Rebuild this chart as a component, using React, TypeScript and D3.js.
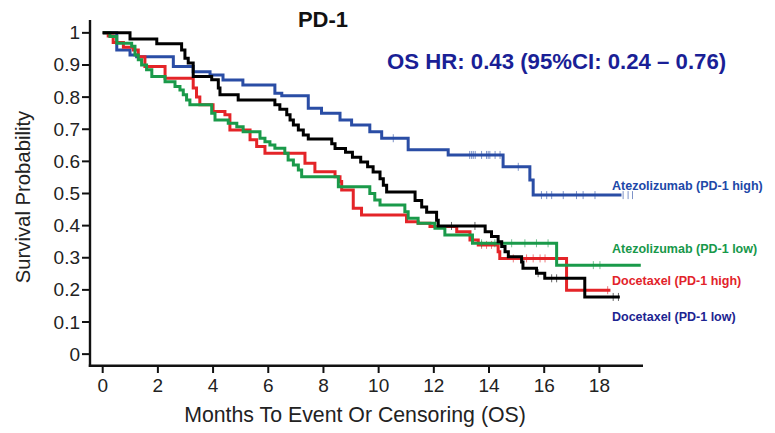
import React from "react";
import * as d3 from "d3";

// ---- data ----
const atezoHighTime = [0, 0.51, 0.99, 1.23, 2.56, 3.28, 3.89, 4.36, 5.08, 6.24, 6.49, 7.45, 7.93, 8.6, 9.02, 9.68, 10.11, 11.07, 12.52, 14.51, 15.48, 15.6, 18.8];
const atezoHighSurv = [1, 0.947, 0.931, 0.926, 0.895, 0.879, 0.869, 0.853, 0.838, 0.812, 0.804, 0.765, 0.75, 0.729, 0.713, 0.692, 0.672, 0.636, 0.62, 0.583, 0.542, 0.495, 0.495];
const atezoHighCensor = [10.53, 13.3, 13.37, 13.43, 13.5, 13.73, 13.91, 13.97, 14.03, 14.22, 14.4, 15.06, 15.9, 16.09, 16.27, 16.69, 17.17, 17.41, 17.84, 18.86, 19.04, 19.2];

const atezoLowTime = [0, 0.26, 0.51, 1.05, 1.17, 1.29, 1.41, 1.59, 1.78, 2.26, 2.62, 2.8, 2.92, 3.04, 3.16, 3.95, 4.07, 4.55, 4.86, 5.09, 5.7, 5.88, 6.06, 6.24, 6.6, 6.72, 6.91, 7.09, 7.21, 8.54, 9.68, 9.86, 10.05, 10.95, 11.07, 11.43, 12.04, 12.4, 13.4, 16.45, 19.5];
const atezoLowSurv = [1, 0.989, 0.968, 0.958, 0.931, 0.916, 0.9, 0.885, 0.864, 0.848, 0.833, 0.822, 0.807, 0.791, 0.776, 0.75, 0.729, 0.719, 0.708, 0.692, 0.672, 0.661, 0.651, 0.641, 0.625, 0.604, 0.589, 0.573, 0.552, 0.521, 0.5, 0.48, 0.464, 0.443, 0.423, 0.407, 0.392, 0.371, 0.345, 0.277, 0.277];
const atezoLowCensor = [13.73, 14.21, 14.82, 15.3, 15.72, 16.14, 17.78, 18.02];

const doceHighTime = [0, 0.2, 0.38, 0.75, 1.11, 1.29, 1.53, 2.26, 3.28, 3.4, 3.52, 4.0, 4.43, 4.61, 5.34, 5.58, 5.88, 7.33, 7.69, 8.42, 8.6, 8.66, 9.08, 9.38, 11.01, 11.43, 11.86, 12.83, 13.31, 13.61, 14.33, 14.39, 16.81, 18.4];
const doceHighSurv = [1, 0.99, 0.97, 0.955, 0.947, 0.926, 0.895, 0.859, 0.828, 0.8, 0.776, 0.755, 0.745, 0.698, 0.667, 0.646, 0.625, 0.594, 0.568, 0.552, 0.537, 0.511, 0.454, 0.433, 0.412, 0.407, 0.397, 0.381, 0.355, 0.34, 0.319, 0.298, 0.199, 0.199];
const doceHighCensor = [13.73, 13.91, 14.09, 14.88, 15.36, 15.6, 15.85, 16.03, 18.3];

const doceLowTime = [0, 0.99, 1.96, 2.86, 2.98, 3.1, 3.28, 3.95, 4.19, 4.25, 4.91, 6.24, 6.42, 6.67, 6.79, 6.91, 7.09, 7.27, 7.45, 8.3, 8.42, 8.8, 9.05, 9.35, 9.6, 9.8, 10.05, 10.17, 10.29, 11.32, 11.56, 11.74, 12.1, 12.16, 13.86, 14.09, 14.33, 14.46, 14.58, 14.7, 15.18, 15.23, 15.72, 16.02, 17.47, 18.74];
const doceLowSurv = [1, 0.981, 0.966, 0.947, 0.921, 0.906, 0.864, 0.854, 0.828, 0.807, 0.791, 0.776, 0.762, 0.745, 0.729, 0.713, 0.698, 0.682, 0.67, 0.655, 0.64, 0.628, 0.613, 0.598, 0.583, 0.567, 0.546, 0.526, 0.505, 0.478, 0.458, 0.442, 0.417, 0.399, 0.381, 0.366, 0.35, 0.335, 0.319, 0.303, 0.287, 0.267, 0.252, 0.236, 0.178, 0.178];
const doceLowCensor = [12.64, 13.49, 15.78, 16.27, 16.45, 18.5, 18.69];

const seriesNames = ["Atezolizumab (PD-1 high)", "Atezolizumab (PD-1 low)", "Docetaxel (PD-1 high)", "Docetaxel (PD-1 low)"];
const xTicks = [0, 2, 4, 6, 8, 10, 12, 14, 16, 18];
const yTicks = [0, 0.1, 0.2, 0.3, 0.4, 0.5, 0.6, 0.7, 0.8, 0.9, 1];
const yTickLabels = ["0", "0.1", "0.2", "0.3", "0.4", "0.5", "0.6", "0.7", "0.8", "0.9", "1"];
const titleText = "PD-1";
const hrText = "OS HR: 0.43 (95%CI: 0.24 \u2013 0.76)";
const xLabel = "Months To Event Or Censoring (OS)";
const yLabel = "Survival Probability";

const W = 775, H = 433;
const x = d3.scaleLinear().domain([-0.46, 19.58]).range([90, 643]);
const y = d3.scaleLinear().domain([-0.036, 1.04]).range([365.7, 20]);

const FONT = "'Liberation Sans', Arial, sans-serif";

type Curve = { time: number[]; surv: number[]; censor: number[]; color: string; labelColor: string; label: string; ly: number };

const curves: Curve[] = [
  { time: atezoHighTime, surv: atezoHighSurv, censor: atezoHighCensor, color: "#2a4da5", labelColor: "#2048a8", label: seriesNames[0], ly: 190 },
  { time: doceHighTime, surv: doceHighSurv, censor: doceHighCensor, color: "#e42428", labelColor: "#e2232a", label: seriesNames[2], ly: 285 },
  { time: atezoLowTime, surv: atezoLowSurv, censor: atezoLowCensor, color: "#1a9a4a", labelColor: "#17984a", label: seriesNames[1], ly: 253 },
  { time: doceLowTime, surv: doceLowSurv, censor: doceLowCensor, color: "#000000", labelColor: "#1c2491", label: seriesNames[3], ly: 321 },
];

function survAt(c: Curve, t: number) {
  const i = d3.bisectRight(c.time, t) - 1;
  return c.surv[Math.max(0, i)];
}

const line = d3
  .line<[number, number]>()
  .x((d) => x(d[0]))
  .y((d) => y(d[1]))
  .curve(d3.curveStepAfter);

export default function App() {
  return (
    <svg width={W} height={H} style={{ position: "absolute", left: 0, top: 0, background: "#fff" }} fontFamily={FONT}>
      <rect x={0} y={0} width={W} height={H} fill="#fff" />
      {/* title */}
      <text x={323} y={27} textAnchor="middle" fontSize={22} fontWeight="bold" fill="#111">{titleText}</text>
      <text x={387} y={69} fontSize={22.2} fontWeight="bold" fill="#1a1f96">{hrText}</text>

      {/* curves */}
      {curves.map((c, i) => (
        <g key={i}>
          <path d={line(c.time.map((t, j) => [t, c.surv[j]] as [number, number])) || ""} fill="none" stroke={c.color} strokeWidth={3} />
          {c.censor.map((t, j) => (
            <line key={j} x1={x(t)} x2={x(t)} y1={y(survAt(c, t)) - 4} y2={y(survAt(c, t)) + 4} stroke={c.color} strokeWidth={1} opacity={0.6} />
          ))}
        </g>
      ))}

      {/* labels */}
      {curves.map((c, i) => (
        <text key={i} x={612} y={c.ly} fontSize={12.5} fontWeight="bold" fill={c.labelColor}>{c.label}</text>
      ))}

      {/* axes */}
      <line x1={90} x2={90} y1={20} y2={366.9} stroke="#111" strokeWidth={2.4} />
      <line x1={88.8} x2={643} y1={365.7} y2={365.7} stroke="#111" strokeWidth={2.4} />
      {yTicks.map((v, i) => (
        <g key={i}>
          <line x1={82} x2={90} y1={y(v)} y2={y(v)} stroke="#111" strokeWidth={2} />
          <text x={80} y={y(v) + 6.5} textAnchor="end" fontSize={19} fill="#222">{yTickLabels[i]}</text>
        </g>
      ))}
      {xTicks.map((t, i) => (
        <g key={i}>
          <line x1={x(t)} x2={x(t)} y1={365.7} y2={373} stroke="#111" strokeWidth={2} />
          <text x={x(t)} y={392} textAnchor="middle" fontSize={19} fill="#222">{String(t)}</text>
        </g>
      ))}
      <text x={355} y={422} textAnchor="middle" fontSize={21.3} fill="#222">{xLabel}</text>
      <text transform="translate(30,197) rotate(-90)" textAnchor="middle" fontSize={20.3} fill="#222">{yLabel}</text>
    </svg>
  );
}
